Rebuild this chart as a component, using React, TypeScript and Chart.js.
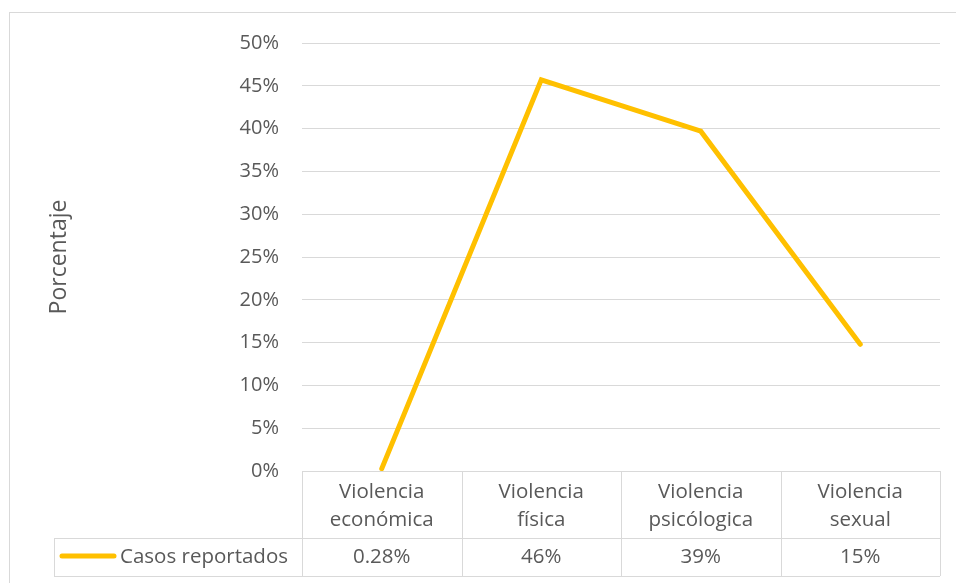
import React, { useEffect, useRef } from "react";
import { Chart, registerables } from "chart.js";

Chart.register(...registerables);

const categories: string[][] = [
  ["Violencia", "económica"],
  ["Violencia", "física"],
  ["Violencia", "psicólogica"],
  ["Violencia", "sexual"],
];
const seriesName = "Casos reportados";
const seriesValues = [0.0028, 0.457, 0.397, 0.148];
const valueLabels = ["0.28%", "46%", "39%", "15%"];
const yMin = 0;
const yMax = 0.5;
const yStep = 0.05;
const yTitle = "Porcentaje";

const FONT = "'Open Sans', 'Noto Sans', sans-serif";
const TEXT = "#595959";
const GRID = "#d9d9d9";
const LINE = "#FFC000";

const tablePlugin = {
  id: "dataTable",
  beforeDraw(chart: any) {
    const ctx = chart.ctx;
    ctx.save();
    ctx.fillStyle = "#ffffff";
    ctx.fillRect(0, 0, chart.width, chart.height);
    ctx.strokeStyle = GRID;
    ctx.lineWidth = 1;
    ctx.strokeRect(9.5, 12.5, chart.width + 10, chart.height + 10);
    ctx.restore();
  },
  beforeDatasetsDraw(chart: any) {
    const ctx = chart.ctx;
    const area = chart.chartArea;
    const xs = chart.scales.x;
    const n = categories.length;
    const half = (xs.getPixelForValue(1) - xs.getPixelForValue(0)) / 2;
    const bounds: number[] = [];
    for (let i = 0; i < n; i++) bounds.push(xs.getPixelForValue(i) - half);
    bounds.push(xs.getPixelForValue(n - 1) + half);
    const top = area.bottom;
    const mid = top + 67;
    const bottom = top + 105;
    const left = 54;
    ctx.save();
    ctx.strokeStyle = GRID;
    ctx.lineWidth = 1;
    ctx.beginPath();
    const hl = (x1: number, x2: number, y: number) => {
      ctx.moveTo(x1, Math.round(y) + 0.5);
      ctx.lineTo(x2, Math.round(y) + 0.5);
    };
    const vl = (x: number, y1: number, y2: number) => {
      ctx.moveTo(Math.round(x) + 0.5, y1);
      ctx.lineTo(Math.round(x) + 0.5, y2);
    };
    hl(bounds[0], bounds[n], top);
    hl(left, bounds[n], mid);
    hl(left, bounds[n], bottom);
    vl(left, mid, bottom);
    bounds.forEach((b) => vl(b, top, bottom));
    ctx.stroke();

    ctx.fillStyle = TEXT;
    ctx.font = `20.5px ${FONT}`;
    ctx.textAlign = "center";
    ctx.textBaseline = "middle";
    for (let i = 0; i < n; i++) {
      const cx = xs.getPixelForValue(i);
      ctx.fillText(categories[i][0], cx, top + 21);
      ctx.fillText(categories[i][1], cx, top + 49);
      ctx.fillText(valueLabels[i], cx, mid + 19);
    }
    // legend key
    ctx.strokeStyle = LINE;
    ctx.lineWidth = 5;
    ctx.lineCap = "round";
    ctx.beginPath();
    ctx.moveTo(62, mid + 18);
    ctx.lineTo(114, mid + 18);
    ctx.stroke();
    ctx.textAlign = "left";
    ctx.fillText(seriesName, 120, mid + 19);
    ctx.restore();
  },
};

export default function App() {
  const ref = useRef<HTMLCanvasElement | null>(null);
  useEffect(() => {
    if (!ref.current) return;
    const chart = new Chart(ref.current, {
      type: "line",
      data: {
        labels: categories.map((c) => c.join(" ")),
        datasets: [
          {
            label: seriesName,
            data: seriesValues,
            borderColor: LINE,
            backgroundColor: LINE,
            borderWidth: 5,
            pointRadius: 0,
            pointHoverRadius: 0,
            tension: 0,
            borderJoinStyle: "miter",
            borderCapStyle: "round",
          },
        ],
      },
      options: {
        responsive: false,
        animation: false,
        maintainAspectRatio: false,
        layout: { padding: { left: 0, right: 16, top: 43, bottom: 6 } },
        plugins: {
          legend: { display: false },
          tooltip: { enabled: false },
        },
        scales: {
          x: {
            type: "category",
            offset: true,
            grid: { display: false },
            border: { display: false },
            ticks: { display: false },
            afterFit(scale: any) {
              scale.height = 106;
            },
          },
          y: {
            min: yMin,
            max: yMax,
            ticks: {
              stepSize: yStep,
              padding: 23,
              color: TEXT,
              font: { family: FONT, size: 20 },
              callback: (v: any) => Math.round(Number(v) * 100) + "%",
            },
            grid: { color: GRID, lineWidth: 1, drawTicks: false },
            border: { display: false },
            title: {
              display: true,
              text: yTitle,
              color: TEXT,
              font: { family: FONT, size: 23 },
              padding: { top: 46, bottom: 0 },
            },
            afterFit(scale: any) {
              scale.width = 302;
            },
          },
        },
      },
      plugins: [tablePlugin],
    });
    return () => chart.destroy();
  }, []);
  return (
    <div style={{ position: "fixed", left: 0, top: 0, width: 956, height: 583 }}>
      <canvas ref={ref} width={956} height={583} />
    </div>
  );
}
